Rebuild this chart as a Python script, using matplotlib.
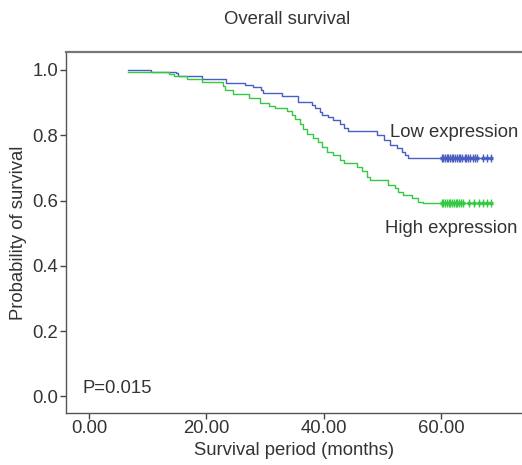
import matplotlib
matplotlib.use("Agg")
import matplotlib.pyplot as plt
import numpy as np

plt.rcParams['font.family'] = ['Liberation Sans', 'DejaVu Sans']

# ---- data ----
start_time = 6.7

low_times = [10.5, 14.8, 15.2, 19.2, 23.4, 26.6, 28.0, 29.3, 29.7, 32.9, 35.7, 38.0, 38.5,
             39.4, 39.7, 40.8, 41.6, 42.8, 43.5, 44.2, 49.0, 50.2, 51.3, 52.5, 53.3, 53.9, 54.4]
low_surv = [0.995, 0.990, 0.982, 0.971, 0.961, 0.954, 0.949, 0.939, 0.929, 0.921, 0.901, 0.893, 0.883,
            0.870, 0.862, 0.857, 0.847, 0.834, 0.821, 0.813, 0.800, 0.785, 0.770, 0.760, 0.750, 0.740, 0.729]
low_censor = [60.1, 60.4, 60.7, 61.0, 61.2, 61.5, 61.8, 62.1, 62.4, 62.7, 63.0, 63.3, 63.6, 64.0,
              64.3, 64.6, 65.0, 65.4, 65.8, 66.1, 67.2, 67.9, 68.6]

high_start = 0.995
high_times = [13.7, 14.4, 16.7, 19.2, 22.8, 23.2, 24.5, 27.2, 29.2, 30.6, 31.7, 33.7, 34.6, 35.1,
              36.0, 36.5, 37.1, 38.2, 39.1, 39.7, 40.5, 41.6, 42.8, 43.4, 45.6, 46.5, 47.3, 47.9,
              51.0, 52.2, 52.7, 53.6, 55.0, 56.0, 57.0]
high_surv = [0.988, 0.982, 0.971, 0.962, 0.951, 0.939, 0.926, 0.913, 0.898, 0.891, 0.883, 0.874, 0.862, 0.850,
             0.834, 0.819, 0.804, 0.793, 0.780, 0.765, 0.750, 0.740, 0.724, 0.714, 0.704, 0.689, 0.673, 0.663,
             0.648, 0.638, 0.627, 0.617, 0.607, 0.597, 0.593]
high_censor = [60.1, 60.4, 60.7, 61.0, 61.3, 61.6, 61.9, 62.2, 62.5, 62.8, 63.1, 63.4, 63.8,
               64.7, 65.6, 66.4, 67.2, 67.8, 68.6]

group_labels = ["Low expression", "High expression"]
xticks = [0, 20, 40, 60]
yticks = [0.0, 0.2, 0.4, 0.6, 0.8, 1.0]

blue = '#4a5fc2'
green = '#34c843'
text_col = '#333333'

fig = plt.figure(figsize=(5.22, 4.65), dpi=100)
ax = fig.add_axes([66/522, 52.3/465, 1 - 66/522, (412.7-52)/465])


def draw(times, surv, s0, censor, color):
    xs = [start_time] + list(times) + [max(censor)]
    ys = [s0] + list(surv) + [surv[-1]]
    ax.step(xs, ys, where='post', color=color, lw=1.0)
    ax.plot(censor, [surv[-1]] * len(censor), linestyle='none', marker='|',
            markersize=6, mew=1.0, color=color)
    ax.plot(censor, [surv[-1]] * len(censor), linestyle='none', marker='_',
            markersize=3, mew=2.5, color=color)


draw(low_times, low_surv, 1.0, low_censor, blue)
draw(high_times, high_surv, high_start, high_censor, green)

ax.set_xlim(-3.93, 73.8)
ax.set_ylim(-0.05, 1.055)
ax.set_xticks(xticks)
ax.set_xticklabels([f"{v:.2f}" for v in xticks])
ax.set_yticks(yticks)
ax.set_yticklabels([f"{v:.1f}" for v in yticks])

ax.tick_params(direction='out', length=4, width=1, colors='#444444',
               labelsize=13.3, labelcolor=text_col, pad=1.5)
for s in ['left', 'bottom', 'top']:
    ax.spines[s].set_color('#555555')
    ax.spines[s].set_linewidth(1.0)
ax.spines['top'].set_color('#777777')
ax.spines['top'].set_linewidth(1.6)
ax.spines['right'].set_visible(False)

ax.set_xlabel("Survival period (months)", fontsize=13.3, color=text_col, labelpad=3)
ax.set_ylabel("Probability of survival", fontsize=13.3, color=text_col, labelpad=4)
fig.text(287/522, 1 - 20/465, "Overall survival", fontsize=13.3, color=text_col,
         ha='center', va='center')

ax.text(51.3, 0.807, group_labels[0], fontsize=13.3, color=text_col, ha='left', va='center')
ax.text(50.45, 0.513, group_labels[1], fontsize=13.3, color=text_col, ha='left', va='center')
ax.text(-1.2, 0.023, "P=0.015", fontsize=13.3, color=text_col, ha='left', va='center')

fig.savefig("out.png", dpi=100)
